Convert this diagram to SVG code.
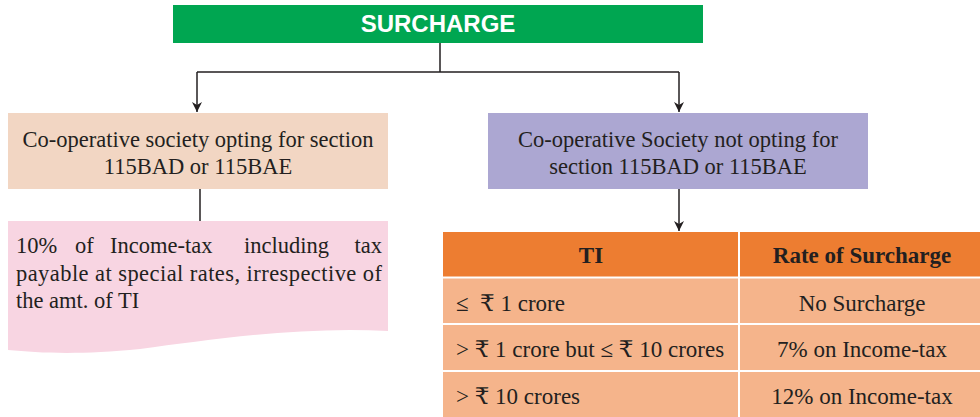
<svg xmlns="http://www.w3.org/2000/svg" width="980" height="417" viewBox="0 0 980 417">
<style>
.t{font-family:"Liberation Serif","DejaVu Serif",serif;font-size:22.5px;fill:#231f20}
.tb{font-size:23px}
.c{text-anchor:middle}
.r{text-anchor:end}
.b{font-weight:bold}
.ln{stroke:#231f20;stroke-width:1.5;fill:none}
</style>
<defs>
<marker id="ah" viewBox="0 0 10 10" refX="10" refY="5" markerWidth="10" markerHeight="10" markerUnits="userSpaceOnUse" orient="auto">
<path d="M0,0 L10,5 L0,10 L3,5 Z" fill="#231f20"/>
</marker>
</defs>
<rect width="980" height="417" fill="#fff"/>
<g id="connectors">
<path class="ln" d="M440,43 V72 M197,72 H679"/>
<path class="ln" d="M197,72 V112" marker-end="url(#ah)"/>
<path class="ln" d="M679,72 V112" marker-end="url(#ah)"/>
<path class="ln" d="M200,189 V221"/>
<path class="ln" d="M679,189 V231" marker-end="url(#ah)"/>
</g>
<g id="surcharge">
<rect x="173" y="5" width="530" height="38" fill="#00a651"/>
<text x="438" y="32" text-anchor="middle" font-family="Liberation Sans, Arial, sans-serif" font-weight="bold" font-size="24" fill="#fff">SURCHARGE</text>
</g>
<g id="opting">
<rect x="8" y="113" width="380" height="76" fill="#f2d6c3"/>
<text class="t c" x="198" y="147">Co-operative society opting for section</text>
<text class="t c" x="198" y="174">115BAD or 115BAE</text>
</g>
<g id="rate10">
<path d="M8,221 H388 V331 C300,326 210,340 140,349 C80,355 40,353 8,350 Z" fill="#f8d5e2"/>
<text class="t" x="16" y="253">10%</text>
<text class="t" x="75" y="253">of</text>
<text class="t" x="110" y="253">Income-tax</text>
<text class="t" x="244" y="253">including</text>
<text class="t r" x="382" y="253">tax</text>
<text class="t" x="16" y="281" textLength="366" lengthAdjust="spacing">payable at special rates, irrespective of</text>
<text class="t" x="16" y="308">the amt. of TI</text>
</g>
<g id="notopting">
<rect x="488" y="113" width="380" height="76" fill="#aca7d2"/>
<text class="t c" x="678" y="147">Co-operative Society not opting for</text>
<text class="t c" x="678" y="174">section 115BAD or 115BAE</text>
</g>
<g id="table">
<rect x="443" y="232" width="537" height="45" fill="#ed7d31"/>
<rect x="443" y="277" width="537" height="140" fill="#f5b48b"/>
<path d="M739,232 V417 M443,277.5 H980 M443,324 H980 M443,371 H980" stroke="#fff" stroke-width="2" fill="none"/>
<text class="t tb c b" x="591" y="263">TI</text>
<text class="t tb c b" x="862" y="263">Rate of Surcharge</text>
<text class="t tb" x="456" y="311">≤&#160;&#160;₹ 1 crore</text>
<text class="t tb c" x="862" y="311">No Surcharge</text>
<text class="t tb" x="456" y="357">&gt; ₹ 1 crore but ≤ ₹ 10 crores</text>
<text class="t tb c" x="862" y="357">7% on Income-tax</text>
<text class="t tb" x="456" y="404">&gt; ₹ 10 crores</text>
<text class="t tb c" x="862" y="404">12% on Income-tax</text>
</g>
</svg>
